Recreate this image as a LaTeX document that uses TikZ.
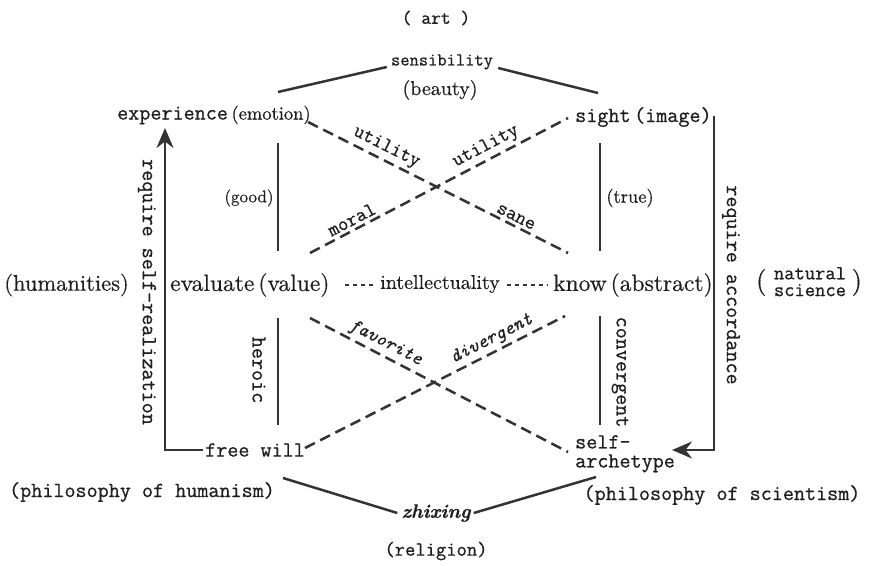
\documentclass[tikz,border=0pt]{standalone}
\usepackage{fontspec}
\setmainfont{lmroman10-regular.otf}[BoldFont=lmroman10-bold.otf,ItalicFont=lmroman10-italic.otf,BoldItalicFont=lmroman10-bolditalic.otf,FakeBold=0.5]
\setmonofont{Latin Modern Mono}[FakeBold=0.7]
\usetikzlibrary{arrows.meta}
\definecolor{ink}{HTML}{1E1E1E}
\definecolor{linec}{HTML}{333333}
\begin{document}
\begin{tikzpicture}[x=1pt,y=-1pt,
  every node/.style={inner sep=0pt,text=ink},
  mono/.style={font=\fontsize{21.5}{21.5}\selectfont\ttfamily},
  monos/.style={font=\fontsize{19}{19}\selectfont\ttfamily},
  rom/.style={font=\fontsize{23.5}{23.5}\selectfont},
  lbl/.style={font=\fontsize{20}{20}\selectfont\ttfamily,sloped,above=3pt},
  solidln/.style={draw=linec,line width=2.5pt},
  dashln/.style={draw=linec,line width=2.5pt,dash pattern=on 11pt off 6pt},
  dotln/.style={draw=linec,line width=2.5pt,dash pattern=on 4pt off 4pt},
  arr/.style={draw=linec,line width=2.5pt,-{Stealth[length=20pt,width=17pt]}}]
\useasboundingbox (0,0) rectangle (874,565);

% top
\node[monos] (art) at (436,18) {( art )};
\node[font=\fontsize{18}{18}\selectfont\ttfamily] (sens) at (442,62) {sensibility};
\node[font=\fontsize{20}{20}\selectfont] (beauty) at (440,90) {(beauty)};

% corner nodes
\node[anchor=west] (exp) at (117,115) {\fontsize{21.5}{21.5}\selectfont\ttfamily experience\,\rmfamily\fontsize{18.5}{18.5}\selectfont(emotion)};
\node[anchor=west,font=\fontsize{21.5}{21.5}\selectfont\ttfamily] (sight) at (575,117) {sight\,(image)};
\node[font=\fontsize{22.5}{22.5}\selectfont,anchor=east] (hum) at (129,285) {(humanities)};
\node[rom,anchor=west] (eval) at (170,285) {evaluate\,(value)};
\node[font=\fontsize{20}{20}\selectfont] (intel) at (440,284) {intellectuality};
\node[rom,anchor=west] (know) at (553,285) {know\,(abstract)};
\node (nat) at (809,284) {\fontsize{27}{27}\selectfont(\;\fontsize{20}{16}\selectfont\ttfamily\begin{tabular}{@{}c@{}}natural\\science\end{tabular}\;\rmfamily\fontsize{27}{27}\selectfont)};
\node[mono] (fw) at (255,450) {free will};
\node[mono,anchor=north west,align=left,font=\fontsize{21.5}{19}\selectfont\ttfamily] (arch) at (575,435) {self-\\archetype};
\node[mono] (phh) at (142,492) {(philosophy of humanism)};
\node[mono] (phs) at (722,495) {(philosophy of scientism)};
\node[font=\fontsize{19.5}{19.5}\selectfont\bfseries\itshape] (zx) at (436,513) {zhixing};
\node[font=\fontsize{20}{20}\selectfont\ttfamily] (rel) at (436,551) {(religion)};

% side labels
\node[font=\fontsize{17}{17}\selectfont] (good) at (249,198) {(good)};
\node[font=\fontsize{18.5}{18.5}\selectfont] (true) at (630,198) {(true)};
\node[mono,rotate=-90] (hero) at (259,370) {heroic};
\node[mono,rotate=-90] (conv) at (620,372) {convergent};
\node[mono,rotate=-90] (rsr) at (147,292) {require self-realization};
\node[mono,rotate=-90] (rac) at (731,285) {require accordance};

% coordinates
\coordinate (tl) at (278,92);
\coordinate (tr) at (598,93);
\coordinate (lv1a) at (278,143); \coordinate (lv1b) at (278,251);
\coordinate (rv1a) at (600,143); \coordinate (rv1b) at (600,251);
\coordinate (lv2a) at (278,318); \coordinate (lv2b) at (278,425);
\coordinate (rv2a) at (600,316); \coordinate (rv2b) at (600,425);
\coordinate (d1a) at (308,122); \coordinate (d1b) at (568,253);
\coordinate (d2a) at (310,253); \coordinate (d2b) at (568,118);
\coordinate (d3a) at (310,318); \coordinate (d3b) at (568,452);
\coordinate (d4a) at (305,448); \coordinate (d4b) at (565,316);
\coordinate (ltip) at (165,128);
\coordinate (rtop) at (714,116);
\coordinate (rtip) at (672,450);
\coordinate (bl) at (283,478);
\coordinate (br) at (596,477);
\coordinate (dl1) at (345,285); \coordinate (dl2) at (374,285);
\coordinate (dr1) at (507,285); \coordinate (dr2) at (548,285);

% top connectors
\draw[solidln] (tl) -- ([xshift=-4pt,yshift=-5pt]sens.west);
\draw[solidln] ([xshift=5pt,yshift=-6pt]sens.east) -- (tr);
% vertical lines
\draw[solidln] (lv1a) -- (lv1b);
\draw[solidln] (rv1a) -- (rv1b);
\draw[solidln] (lv2a) -- (lv2b);
\draw[solidln] (rv2a) -- (rv2b);
% dashed crosses
\draw[dashln] (d1a) -- node[lbl,pos=0.28] {utility} node[lbl,pos=0.785] {sane} (d1b);
\draw[dashln] (d2a) -- node[lbl,pos=0.18] {moral} node[lbl,pos=0.705] {utility} (d2b);
\draw[dashln] (d3a) -- node[lbl,pos=0.27,font=\fontsize{19}{19}\selectfont\ttfamily\itshape] {favorite} (d3b);
\draw[dashln] (d4a) -- node[lbl,pos=0.74,font=\fontsize{19}{19}\selectfont\ttfamily\itshape] {divergent} (d4b);
% dotted middle
\draw[dotln] (dl1) -- (dl2);
\draw[dotln] (dr1) -- (dr2);
% arrows
\draw[arr] ([xshift=-2pt]fw.west) -| (ltip);
\draw[arr] (rtop) |- (rtip);
% bottom connectors
\draw[solidln] (bl) -- ([xshift=-4pt]zx.west);
\draw[solidln] ([xshift=3pt]zx.east) -- (br);
\end{tikzpicture}
\end{document}
